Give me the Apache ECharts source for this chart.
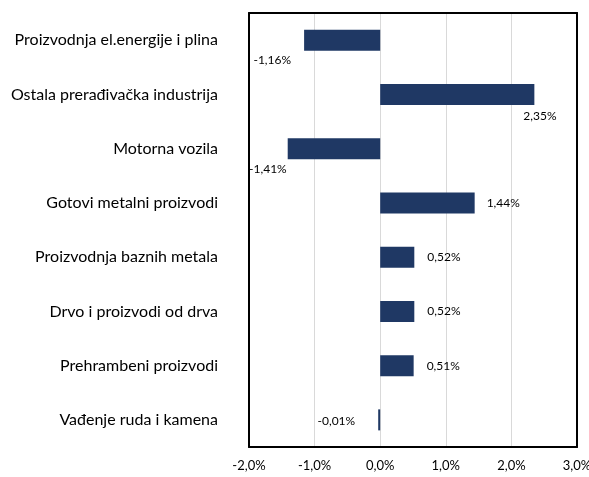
<!DOCTYPE html>
<html><head><meta charset="utf-8">
<script src="https://cdn.jsdelivr.net/npm/echarts@6/dist/echarts.min.js"></script>
<style>html,body{margin:0;padding:0;background:#fff;overflow:hidden}#c{width:589px;height:477px}</style>
</head><body><div id="c"></div>
<script>
const categories = [
  "Proizvodnja el.energije i plina",
  "Ostala prerađivačka industrija",
  "Motorna vozila",
  "Gotovi metalni proizvodi",
  "Proizvodnja baznih metala",
  "Drvo i proizvodi od drva",
  "Prehrambeni proizvodi",
  "Vađenje ruda i kamena"
];
const values = [-1.16, 2.35, -1.41, 1.44, 0.52, 0.52, 0.51, -0.01];
const xTicks = { min: -2, max: 3, interval: 1 };

// label placement per bar (styling only)
const labelStyles = [
  { position: 'left', distance: 13, offset: [0, 20] },
  { position: 'right', distance: 5, offset: [-16, 22] },
  { position: 'left', distance: 1, offset: [0, 20] },
  { position: 'right', distance: 12, offset: [0, 0] },
  { position: 'right', distance: 13, offset: [0, 0] },
  { position: 'right', distance: 13, offset: [0, 0] },
  { position: 'right', distance: 13, offset: [0, 0] },
  { position: 'left', distance: 23, offset: [0, 1] }
];
const fmt = v => v.toFixed(2).replace('.', ',') + '%';
const data = values.map((v, i) => ({ value: v, label: Object.assign({}, labelStyles[i]) }));

const borderLine = { show: true, onZero: false, lineStyle: { color: '#000', width: 2 } };
const chart = echarts.init(document.getElementById('c'));
chart.setOption({
  animation: false,
  grid: { left: 249, right: 12, top: 13, bottom: 30, outerBoundsMode: 'none', containLabel: false },
  xAxis: [{
    type: 'value', min: xTicks.min, max: xTicks.max, interval: xTicks.interval,
    axisLine: borderLine, axisTick: { show: false },
    splitLine: { show: true, showMinLine: false, showMaxLine: false, lineStyle: { color: '#d9d9d9', width: 1 } },
    axisLabel: { margin: 12, color: '#000', fontFamily: 'Lato', fontSize: 13, hideOverlap: false,
      formatter: v => v.toFixed(1).replace('.', ',') + '%' }
  }, {
    type: 'value', position: 'top', min: xTicks.min, max: xTicks.max, interval: xTicks.interval,
    axisLine: borderLine, axisTick: { show: false }, axisLabel: { show: false }, splitLine: { show: false }
  }],
  yAxis: [{
    type: 'category', data: categories, inverse: true,
    axisLine: borderLine, axisTick: { show: false },
    axisLabel: { margin: 31, color: '#000', fontFamily: 'Lato', fontSize: 16 }
  }, {
    type: 'category', data: categories, inverse: true, position: 'right',
    axisLine: borderLine, axisTick: { show: false }, axisLabel: { show: false }
  }],
  series: [{
    type: 'bar', data: data, barWidth: 21, barMinHeight: 2, xAxisIndex: 0, yAxisIndex: 0, z: 1,
    itemStyle: { color: '#1f3864' },
    label: { show: true, color: '#000', fontFamily: 'Lato', fontSize: 12,
      formatter: p => fmt(p.value) }
  }]
});
</script></body></html>
